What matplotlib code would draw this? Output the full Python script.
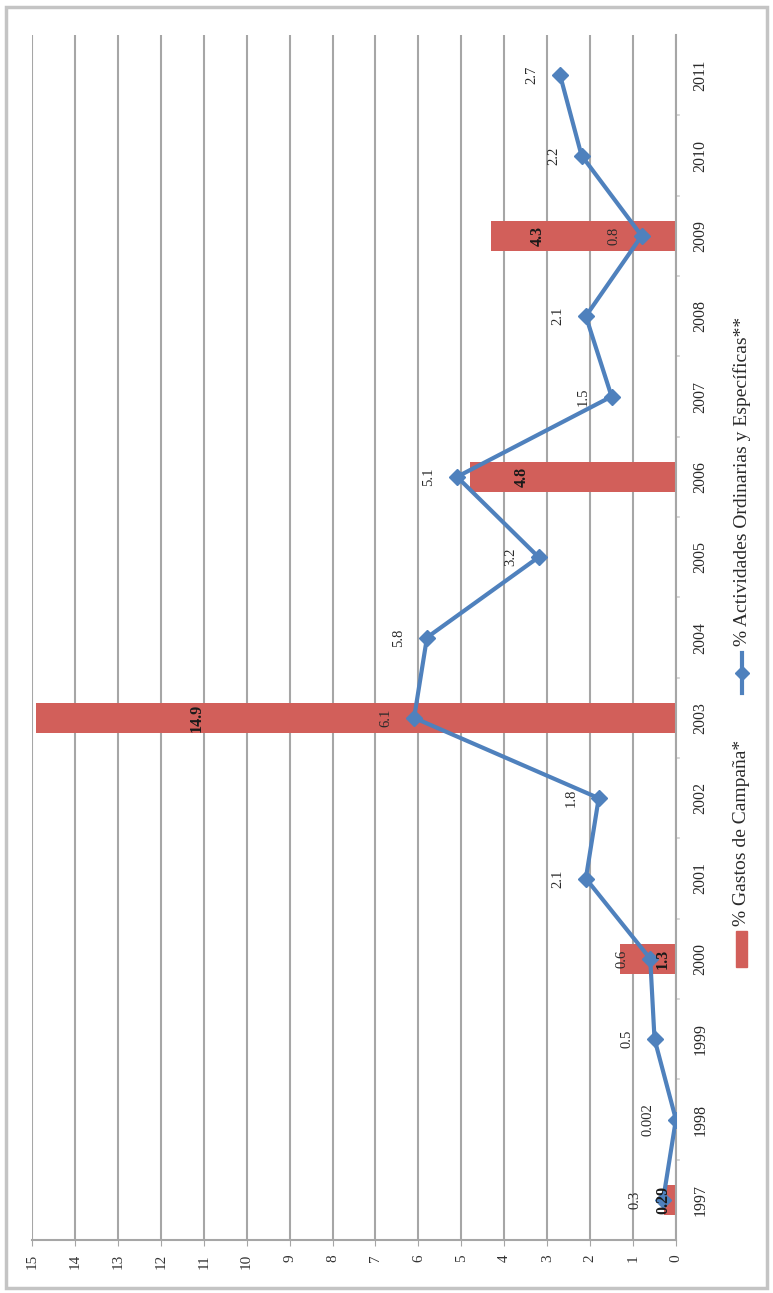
import matplotlib
matplotlib.use("Agg")
import matplotlib.pyplot as plt
from matplotlib.lines import Line2D
from matplotlib.patches import Rectangle

years = ["1997", "1998", "1999", "2000", "2001", "2002", "2003", "2004",
         "2005", "2006", "2007", "2008", "2009", "2010", "2011"]
campana = [0.29, 0, 0, 1.3, 0, 0, 14.9, 0, 0, 4.8, 0, 0, 4.3, 0, 0]
campana_labels = ["0.29", "", "", "1.3", "", "", "14.9", "", "", "4.8", "", "", "4.3", "", ""]
actividades = [0.3, 0.002, 0.5, 0.6, 2.1, 1.8, 6.1, 5.8, 3.2, 5.1, 1.5, 2.1, 0.8, 2.2, 2.7]
actividades_labels = ["0.3", "0.002", "0.5", "0.6", "2.1", "1.8", "6.1", "5.8", "3.2",
                      "5.1", "1.5", "2.1", "0.8", "2.2", "2.7"]
value_ticks = list(range(0, 16))
legend_labels = ["% Gastos de Campaña*", "% Actividades Ordinarias y Específicas**"]

plt.rcParams['font.family'] = ['Liberation Serif', 'DejaVu Serif']

W, H = 773, 1293
fig = plt.figure(figsize=(W / 100, H / 100), dpi=100)
fig.patch.set_facecolor("white")

left, right, top, bottom = 32, 676, 35, 1240
ax = fig.add_axes([left / W, 1 - bottom / H, (right - left) / W, (bottom - top) / H])

bar_color = "#D25F5A"
line_color = "#4F81BD"
grid_color = "#A6A6A6"
text_color = "#2a2a2a"

pos = list(range(len(years)))
ax.barh(pos, campana, height=0.38, color=bar_color, zorder=2)
ax.plot(actividades, pos, color=line_color, lw=3, marker="D", ms=8,
        mfc=line_color, mec=line_color, zorder=3, solid_joinstyle="round")

ax.set_xlim(15, 0)
ax.set_ylim(-0.5, len(years) - 0.5)

ax.set_xticks(value_ticks)
ax.set_xticklabels([str(v) for v in value_ticks], rotation=90, fontsize=11, color="#333333")
ax.xaxis.grid(True, color=grid_color, lw=1.5, zorder=0)
ax.set_axisbelow(True)

ax.set_yticks(pos)
ax.set_yticklabels(years, rotation=90, fontsize=11.5, va="center", color=text_color)
ax.yaxis.tick_right()
ax.tick_params(axis="y", length=0, pad=12)
ax.tick_params(axis="x", length=4, color=grid_color, pad=6)

for side in ["top", "left"]:
    ax.spines[side].set_visible(False)
ax.spines["right"].set_color(grid_color)
ax.spines["right"].set_linewidth(1.5)
ax.spines["bottom"].set_color(grid_color)
ax.spines["bottom"].set_linewidth(1.5)

# category tick marks between years on the category axis
for b in [p + 0.5 for p in pos[:-1]]:
    ax.plot([0, -0.08], [b, b], color="#D0D0D0", lw=1.2, clip_on=False, zorder=1)

# line data labels
for v, p, t in zip(actividades, pos, actividades_labels):
    ax.annotate(t, (v, p), xytext=(-28, 0), textcoords="offset pixels",
                rotation=90, ha="center", va="center", fontsize=10.5, color=text_color, zorder=5)

# bar data labels
for v, p, t in zip(campana, pos, campana_labels):
    if t:
        lx = v * 0.75 if v >= 2 else 0.3
        ax.text(lx, p, t, rotation=90, ha="center", va="center",
                fontsize=11.5, fontweight="bold", color="#1a1a1a", zorder=4)

# legend (rotated, drawn manually)
lx = 742
fig.patches.append(Rectangle(((lx - 6) / W, 1 - 967 / H), 11 / W, 36 / H,
                             transform=fig.transFigure, color=bar_color))
fig.text(lx / W, 1 - 926 / H, legend_labels[0], rotation=90, ha="center", va="bottom",
         fontsize=14, color=text_color)
fig.add_artist(Line2D([lx / W, lx / W], [1 - 693 / H, 1 - 653 / H],
                      transform=fig.transFigure, color=line_color, lw=3))
fig.add_artist(Line2D([lx / W], [1 - 673 / H], transform=fig.transFigure,
                      color=line_color, marker="D", ms=7, lw=0))
fig.text(lx / W, 1 - 646 / H, legend_labels[1], rotation=90, ha="center", va="bottom",
         fontsize=14, color=text_color)

# outer chart border
fig.patches.append(Rectangle((6 / W, 1 - 1288 / H), 761 / W, 1281 / H,
                             transform=fig.transFigure, fill=False,
                             edgecolor="#C4C4C4", lw=2.5))

fig.savefig("out.png", dpi=100, facecolor="white")
